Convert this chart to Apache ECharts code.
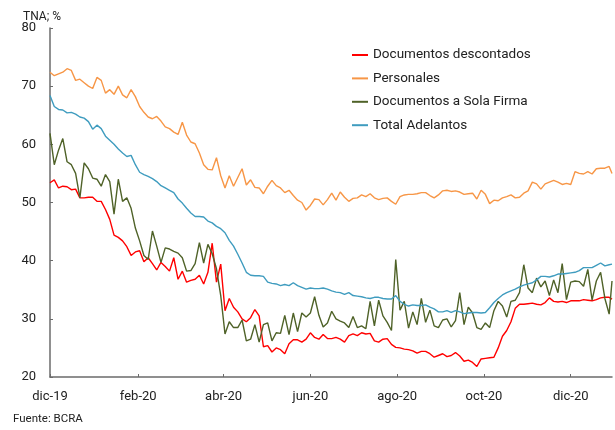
<!DOCTYPE html>
<html>
<head>
<meta charset="utf-8">
<script src="https://cdn.jsdelivr.net/npm/echarts@6/dist/echarts.min.js"></script>
<style>
    html, body { margin: 0; padding: 0; background: #fff; }
    #chartLine { width: 615px; height: 430px; }
</style>
</head>
<body>
<div id="chartLine"></div>
<script>
    // fechas (cada 3 dias aprox.)
    var dates = [
        '2019-12-01','2019-12-04','2019-12-07','2019-12-10','2019-12-13','2019-12-16','2019-12-19','2019-12-22','2019-12-25','2019-12-28','2019-12-31',
        '2020-01-03','2020-01-06','2020-01-09','2020-01-12','2020-01-15','2020-01-18','2020-01-21','2020-01-24','2020-01-27','2020-01-30',
        '2020-02-02','2020-02-05','2020-02-08','2020-02-11','2020-02-14','2020-02-17','2020-02-20','2020-02-23','2020-02-26','2020-02-29',
        '2020-03-03','2020-03-06','2020-03-09','2020-03-12','2020-03-15','2020-03-18','2020-03-21','2020-03-24','2020-03-27','2020-03-30',
        '2020-04-02','2020-04-05','2020-04-08','2020-04-11','2020-04-14','2020-04-17','2020-04-20','2020-04-23','2020-04-26','2020-04-29',
        '2020-05-02','2020-05-05','2020-05-08','2020-05-11','2020-05-14','2020-05-17','2020-05-20','2020-05-23','2020-05-26','2020-05-29',
        '2020-06-01','2020-06-04','2020-06-07','2020-06-10','2020-06-13','2020-06-16','2020-06-19','2020-06-22','2020-06-25','2020-06-28',
        '2020-07-01','2020-07-04','2020-07-07','2020-07-10','2020-07-13','2020-07-16','2020-07-19','2020-07-22','2020-07-25','2020-07-28','2020-07-31',
        '2020-08-03','2020-08-06','2020-08-09','2020-08-12','2020-08-15','2020-08-18','2020-08-21','2020-08-24','2020-08-27','2020-08-30',
        '2020-09-02','2020-09-05','2020-09-08','2020-09-11','2020-09-14','2020-09-17','2020-09-20','2020-09-23','2020-09-26','2020-09-29',
        '2020-10-02','2020-10-05','2020-10-08','2020-10-11','2020-10-14','2020-10-17','2020-10-20','2020-10-23','2020-10-26','2020-10-29',
        '2020-11-01','2020-11-04','2020-11-07','2020-11-10','2020-11-13','2020-11-16','2020-11-19','2020-11-22','2020-11-25','2020-11-28',
        '2020-12-01','2020-12-04','2020-12-07','2020-12-10','2020-12-13','2020-12-16','2020-12-19','2020-12-22','2020-12-25','2020-12-28','2020-12-30'
    ]

    var descontados = [
        53.4, 53.9, 52.5, 52.8, 52.7, 52.2, 52.3, 50.8, 50.8, 50.9, 50.9,
        50.2, 50.2, 48.8, 47.1, 44.4, 44.0, 43.4, 42.4, 40.9, 41.5,
        41.7, 39.8, 40.5, 39.5, 38.4, 39.7, 39.0, 38.2, 40.5, 36.8,
        38.2, 36.3, 36.6, 36.8, 37.5, 36.0, 38.0, 43.0, 36.3, 39.4,
        31.4, 33.5, 32.0, 31.2, 30.0, 29.5, 30.2, 31.6, 30.5, 25.2,
        25.4, 24.3, 25.0, 24.7, 24.0, 25.7, 26.4, 26.4, 26.0, 26.5,
        27.6, 26.8, 26.5, 27.3, 26.6, 26.6, 26.8, 26.5, 26.0, 27.1,
        27.4, 27.1, 27.6, 27.4, 27.5, 26.2, 26.0, 26.5, 26.6, 25.6, 25.1,
        25.0, 24.8, 24.7, 24.5, 24.1, 24.4, 24.4, 24.0, 23.4, 23.7,
        24.0, 23.5, 23.7, 24.2, 23.6, 22.7, 22.9, 22.5, 21.8, 23.1,
        23.2, 23.3, 23.4, 25.0, 27.0, 28.0, 29.5, 31.8, 32.5, 32.5,
        32.6, 32.7, 32.5, 32.4, 32.8, 33.6, 33.0, 32.9, 33.0, 32.8,
        33.1, 33.1, 33.1, 33.3, 33.2, 33.1, 33.3, 33.6, 33.7, 33.7, 33.4
    ]

    var personales = [
        72.4, 71.8, 72.1, 72.4, 73.0, 72.7, 71.0, 71.2, 70.6, 70.0, 69.6,
        71.5, 71.0, 68.8, 69.4, 68.6, 70.0, 68.5, 68.0, 69.4, 68.2,
        66.5, 65.5, 64.7, 64.4, 64.8, 64.0, 63.0, 62.7, 62.1, 61.7,
        63.8, 61.6, 60.4, 60.1, 58.5, 56.5, 55.7, 55.6, 57.7, 54.6,
        52.5, 54.6, 52.8, 54.3, 55.8, 53.0, 53.9, 52.6, 52.5, 51.5,
        52.8, 53.8, 52.9, 52.5, 51.7, 52.1, 51.2, 50.4, 50.0, 48.7,
        49.5, 50.6, 50.5, 49.6, 50.5, 51.6, 50.4, 51.8, 50.9, 50.2,
        50.7, 50.8, 51.3, 51.0, 51.5, 50.8, 50.5, 50.7, 50.8, 50.2, 49.7,
        51.0, 51.3, 51.4, 51.4, 51.5, 51.7, 51.7, 51.2, 50.8, 51.3,
        52.0, 52.1, 51.9, 52.0, 51.8, 51.4, 51.5, 51.6, 50.6, 52.1,
        51.4, 49.8, 50.4, 50.3, 50.8, 51.0, 51.3, 50.8, 50.9, 51.6,
        52.0, 53.5, 53.2, 52.3, 53.2, 53.5, 53.8, 53.5, 53.1, 53.3,
        53.1, 55.3, 55.0, 54.9, 55.3, 54.9, 55.8, 55.9, 55.9, 56.2, 55.0
    ]

    var solaFirma = [
        61.9, 56.5, 59.0, 61.0, 57.0, 56.5, 55.0, 50.8, 56.8, 55.8, 54.2,
        54.0, 52.8, 54.8, 53.6, 48.0, 54.0, 50.2, 50.8, 49.0, 45.6,
        43.4, 40.9, 40.2, 45.1, 42.5, 39.7, 42.2, 42.0, 41.6, 41.3,
        40.5, 38.2, 38.3, 39.5, 43.1, 39.6, 42.8, 41.2, 38.6, 34.0,
        27.4, 29.5, 28.5, 28.5, 29.8, 26.2, 26.5, 29.0, 26.0, 29.0,
        29.3, 26.2, 27.6, 27.5, 30.6, 27.3, 31.0, 27.8, 31.0, 30.3,
        31.0, 33.8, 30.6, 28.6, 29.3, 31.3, 30.0, 29.6, 29.3, 28.5,
        30.4, 28.5, 28.8, 28.3, 33.0, 28.8, 33.2, 30.5, 29.4, 28.0, 40.2,
        31.5, 33.0, 28.4, 31.2, 29.0, 33.5, 29.4, 31.5, 28.8, 28.5,
        29.8, 30.0, 28.6, 29.7, 34.5, 29.0, 32.0, 31.0, 28.5, 28.2,
        29.3, 28.5, 31.4, 33.0, 32.2, 30.3, 33.0, 33.2, 34.5, 39.3,
        35.3, 34.5, 37.0, 35.5, 36.5, 34.0, 36.7, 34.5, 39.5, 33.3,
        36.3, 36.5, 36.4, 35.6, 38.5, 33.2, 36.5, 38.0, 33.5, 30.8, 36.5
    ]

    var adelantos = [
        68.4, 66.5, 66.0, 65.9, 65.4, 65.5, 65.2, 64.7, 64.5, 63.9, 62.6,
        63.3, 62.7, 61.4, 60.7, 60.0, 59.2, 58.5, 57.9, 58.1, 56.5,
        55.2, 54.8, 54.5, 54.1, 53.6, 52.9, 52.5, 52.1, 51.7, 50.6,
        49.9, 49.0, 48.2, 47.6, 47.6, 47.5, 46.8, 46.5, 45.9, 45.5,
        44.8, 43.5, 42.5, 41.1, 39.6, 38.0, 37.5, 37.4, 37.4, 37.3,
        36.3, 36.1, 36.0, 35.7, 35.9, 35.7, 36.2, 35.7, 35.4, 35.1,
        35.3, 35.2, 35.2, 35.3, 35.1, 34.8, 34.6, 34.5, 34.2, 34.5,
        34.0, 33.9, 33.8, 33.6, 33.5, 33.7, 33.7, 33.5, 33.4, 33.4, 34.0,
        33.0, 32.5, 32.2, 32.4, 32.3, 32.3, 32.4, 32.0, 31.7, 31.2,
        31.2, 31.4, 31.1, 31.4, 31.2, 30.9, 31.0, 31.1, 31.1, 31.0,
        31.1, 31.9, 32.8, 33.5, 34.1, 34.5, 34.8, 35.1, 35.5, 35.8,
        36.0, 36.2, 36.7, 37.3, 37.3, 37.2, 37.4, 37.7, 37.7, 37.8,
        37.9, 38.0, 38.3, 38.8, 38.8, 38.8, 39.2, 39.6, 39.1, 39.3, 39.4
    ]

    var names = ['Documentos descontados', 'Personales', 'Documentos a Sola Firma', 'Total Adelantos']
    var colors = ['#ff0000', '#f79646', '#4f6228', '#3f9cbf']
    var tickDates = ['2019-12-01', '2020-02-01', '2020-04-01', '2020-06-01', '2020-08-01', '2020-10-01', '2020-12-01']
    var meses = ['ene', 'feb', 'mar', 'abr', 'may', 'jun', 'jul', 'ago', 'sep', 'oct', 'nov', 'dic']

    // fecha 'YYYY-MM-DD' -> milisegundos (hora local)
    function ms(s) {
        var p = s.split('-')
        return new Date(+p[0], +p[1] - 1, +p[2]).getTime()
    }

    function pares(values) {
        return dates.map(function (d, i) { return [ms(d), values[i]] })
    }

    var tickMs = tickDates.map(ms)

    var chartLine = echarts.init(document.getElementById('chartLine'))
    var font = 'Roboto, "Liberation Sans", sans-serif'
    var axisColor = '#6b6b6b'

    chartLine.setOption({
        animation: false,
        color: colors,
        textStyle: { fontFamily: font },
        title: {
            text: 'TNA; %',
            left: 18,
            top: 6,
            textStyle: { fontSize: 12, fontWeight: 'normal', color: '#222', fontFamily: font }
        },
        legend: {
            orient: 'vertical',
            left: 347,
            top: 42,
            icon: 'rect',
            itemWidth: 16,
            itemHeight: 2,
            itemGap: 7.4,
            textStyle: { fontSize: 13.5, lineHeight: 16, color: '#222', fontFamily: font },
            data: names
        },
        grid: {
            left: 50,
            right: 3,
            top: 28,
            bottom: 53
        },
        xAxis: {
            type: 'value',
            min: ms('2019-12-01'),
            max: ms('2020-12-30'),
            axisLine: { lineStyle: { color: axisColor, width: 1.5 } },
            axisTick: { show: true, inside: true, length: 3, customValues: tickMs, lineStyle: { color: axisColor } },
            axisLabel: {
                customValues: tickMs,
                hideOverlap: false,
                margin: 13,
                fontSize: 13,
                color: '#222',
                fontFamily: font,
                formatter: function (val) {
                    var d = new Date(val)
                    return meses[d.getMonth()] + '-' + String(d.getFullYear()).slice(2)
                }
            },
            splitLine: { show: false }
        },
        yAxis: {
            type: 'value',
            min: 20,
            max: 80,
            interval: 10,
            axisLine: { show: true, lineStyle: { color: axisColor, width: 1.5 } },
            axisTick: { show: true, inside: true, length: 3, lineStyle: { color: axisColor } },
            axisLabel: { fontSize: 13, color: '#222', margin: 14, fontFamily: font },
            splitLine: { show: false }
        },
        graphic: [{
            type: 'text',
            left: 13,
            top: 413,
            style: { text: 'Fuente: BCRA', fontSize: 11.5, fill: '#222', fontFamily: font }
        }],
        series: [
            { name: names[0], type: 'line', showSymbol: false, lineStyle: { width: 1.4 }, data: pares(descontados) },
            { name: names[1], type: 'line', showSymbol: false, lineStyle: { width: 1.4 }, data: pares(personales) },
            { name: names[2], type: 'line', showSymbol: false, lineStyle: { width: 1.4 }, data: pares(solaFirma) },
            { name: names[3], type: 'line', showSymbol: false, lineStyle: { width: 1.4 }, data: pares(adelantos) }
        ]
    })
</script>
</body>
</html>
